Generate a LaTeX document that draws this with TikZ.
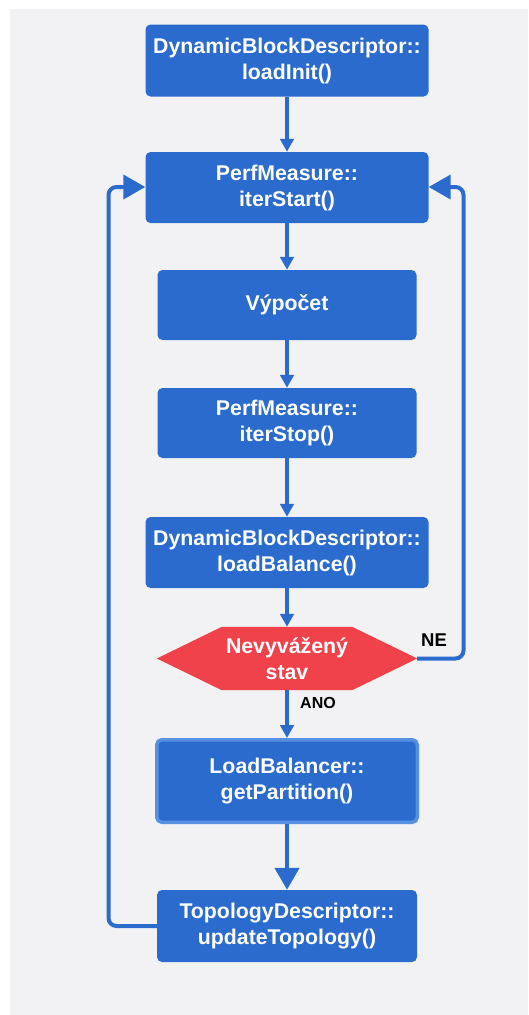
\documentclass[tikz,border=0pt]{standalone}
\usepackage{fontspec}
\setmainfont{Liberation Sans}
\usetikzlibrary{arrows.meta,backgrounds}

\definecolor{boxblue}{RGB}{43,107,205}
\definecolor{rimblue}{RGB}{88,144,226}
\definecolor{alertred}{RGB}{239,66,75}
\definecolor{panelgrey}{RGB}{242,242,244}

\pgfdeclarelayer{panel}
\pgfsetlayers{panel,background,main}

\tikzset{
  proc/.style={fill=boxblue, rounded corners=5pt, inner sep=0pt, align=center,
    text=white, font=\bfseries\fontsize{21.3}{26}\selectfont},
  flow/.style={draw=boxblue, line width=4pt, -{Triangle[length=13pt,width=13.5pt]}},
  bigflow/.style={draw=boxblue, line width=4pt, rounded corners=8pt,
    -{Triangle[length=22pt,width=24pt]}},
  tag/.style={text=black, inner sep=0pt, font=\bfseries\fontsize{#1}{#1}\selectfont},
}

\begin{document}
\begin{tikzpicture}[x=1pt, y=-1pt]
  \useasboundingbox (0,0) rectangle (528,1015);
  \begin{pgfonlayer}{panel}
    \fill[white] (0,0) rectangle (528,1015);
    \fill[panelgrey] (10,9) rectangle (528,1015);
  \end{pgfonlayer}

  % process steps
  \node[proc, minimum width=283pt, minimum height=72pt] (init) at (287,60.5)
    {DynamicBlockDescriptor::\\loadInit()};
  \node[proc, minimum width=283pt, minimum height=71pt] (start) at (287,187.5)
    {PerfMeasure::\\iterStart()};
  \node[proc, minimum width=259pt, minimum height=70pt] (comp) at (287,305)
    {Výpočet};
  \node[proc, minimum width=259pt, minimum height=70pt] (stop) at (287,423)
    {PerfMeasure::\\iterStop()};
  \node[proc, minimum width=283pt, minimum height=71pt] (bal) at (287,552.5)
    {DynamicBlockDescriptor::\\loadBalance()};

  % decision
  \node[inner sep=0pt, minimum width=260pt, minimum height=63pt, align=center,
    text=white, font=\bfseries\fontsize{21.3}{26}\selectfont] (dec) at (287,658.5)
    {Nevyvážený\\stav};
  \begin{scope}[on background layer]
    \fill[alertred] (dec.west) -- ([xshift=65pt]dec.north west)
      -- ([xshift=-65pt]dec.north east) -- (dec.east)
      -- ([xshift=-65pt]dec.south east) -- ([xshift=65pt]dec.south west) -- cycle;
  \end{scope}

  \node[proc, draw=rimblue, line width=3.5pt, minimum width=260.5pt,
    minimum height=82.5pt] (part) at (287,781)
    {LoadBalancer::\\getPartition()};
  \node[proc, minimum width=260pt, minimum height=72pt] (topo) at (287,926)
    {TopologyDescriptor::\\updateTopology()};

  % straight flow
  \draw[flow] (init) -- (start);
  \draw[flow] (start) -- (comp);
  \draw[flow] (comp) -- (stop);
  \draw[flow] (stop) -- (bal);
  \draw[flow] (bal) -- (dec);
  \draw[flow] (dec) -- (part);
  \draw[bigflow, line width=4.5pt] (part) -- (topo);

  % loops back to the start of the iteration
  \draw[bigflow] (topo.west) -| (108.5,187) -- (start.west |- 0,187);
  \draw[bigflow] (dec.east) -| (463.5,187) -- (start.east |- 0,187);

  % branch labels
  \node[tag=18.5] (ne) at (434,640.5) {NE};
  \node[tag=16] (ano) at (318,703) {ANO};
\end{tikzpicture}
\end{document}
